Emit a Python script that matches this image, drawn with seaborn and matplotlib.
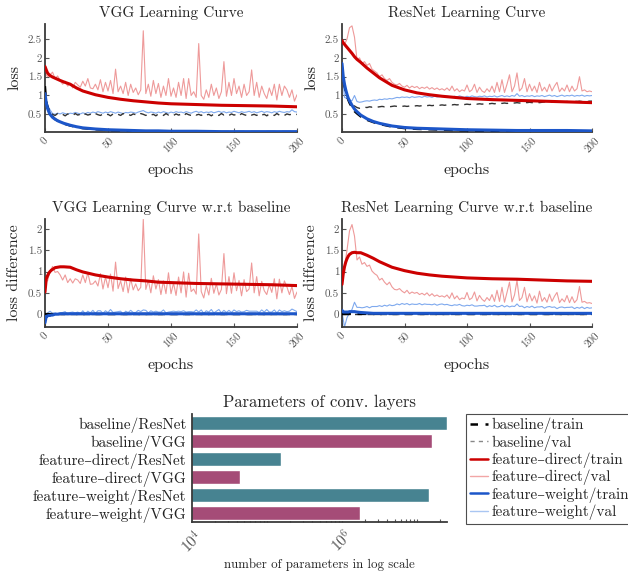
import numpy as np
import pandas as pd
import matplotlib
matplotlib.use("Agg")
import matplotlib.pyplot as plt
from matplotlib.lines import Line2D
from matplotlib.ticker import FuncFormatter, LogLocator, NullFormatter
import seaborn as sns

# ---------------- data ----------------
epochs_train = [0, 1, 2, 3, 4, 5, 6, 8, 10, 12, 15, 20, 25, 30, 40, 50, 60, 70, 80, 90, 100, 120, 140, 160, 180, 200]
epochs_val = list(range(0, 201, 2))

vgg_base_train = [1.25, 0.85, 0.70, 0.60, 0.53, 0.48, 0.44, 0.37, 0.33, 0.29, 0.25, 0.20, 0.16, 0.13, 0.10, 0.08, 0.07, 0.06, 0.05, 0.05, 0.04, 0.04, 0.03, 0.03, 0.03, 0.03]
vgg_direct_train = [1.77, 1.68, 1.60, 1.56, 1.53, 1.51, 1.49, 1.46, 1.43, 1.40, 1.36, 1.30, 1.20, 1.12, 1.02, 0.95, 0.90, 0.86, 0.83, 0.80, 0.78, 0.76, 0.74, 0.73, 0.72, 0.70]
vgg_weight_train = [1.05, 0.80, 0.66, 0.57, 0.50, 0.46, 0.42, 0.37, 0.33, 0.30, 0.26, 0.21, 0.17, 0.14, 0.11, 0.09, 0.08, 0.07, 0.06, 0.06, 0.05, 0.05, 0.04, 0.04, 0.04, 0.04]

vgg_base_val = [0.78, 0.72, 0.55, 0.50, 0.47, 0.52, 0.48, 0.50, 0.46, 0.51,
                0.49, 0.47, 0.52, 0.48, 0.50, 0.46, 0.51, 0.48, 0.50, 0.47,
                0.52, 0.49, 0.47, 0.51, 0.48, 0.50, 0.46, 0.51, 0.48, 0.50,
                0.47, 0.52, 0.48, 0.50, 0.47, 0.51, 0.49, 0.47, 0.52, 0.50,
                0.47, 0.51, 0.48, 0.50, 0.46, 0.51, 0.49, 0.47, 0.52, 0.48,
                0.50, 0.47, 0.51, 0.48, 0.50, 0.46, 0.52, 0.49, 0.47, 0.51,
                0.48, 0.50, 0.47, 0.52, 0.48, 0.50, 0.46, 0.51, 0.49, 0.47,
                0.52, 0.48, 0.50, 0.47, 0.51, 0.48, 0.50, 0.46, 0.52, 0.49,
                0.47, 0.51, 0.48, 0.50, 0.47, 0.52, 0.48, 0.50, 0.46, 0.51,
                0.49, 0.47, 0.52, 0.48, 0.50, 0.47, 0.51, 0.49, 0.50, 0.48,
                0.50]
vgg_direct_val = [1.60, 1.50, 1.55, 1.62, 1.45, 1.52, 1.40, 1.30, 1.38, 1.25,
                  1.32, 1.20, 1.35, 1.28, 1.22, 1.38, 1.25, 1.45, 1.20, 1.18,
                  1.30, 1.15, 1.42, 1.10, 1.35, 1.12, 1.40, 1.05, 1.70, 1.10,
                  1.25, 1.05, 1.35, 1.00, 1.30, 1.08, 1.20, 1.02, 1.15, 2.72,
                  1.05, 1.30, 0.98, 1.40, 1.05, 1.32, 0.95, 1.25, 1.00, 1.45,
                  0.98, 1.20, 0.95, 1.35, 1.00, 1.45, 0.92, 1.45, 1.00, 1.10,
                  0.95, 2.38, 1.00, 0.90, 1.15, 0.95, 1.30, 1.00, 1.20, 0.92,
                  1.10, 1.90, 0.98, 1.35, 1.00, 1.45, 1.05, 1.25, 0.95, 1.30,
                  1.00, 1.10, 1.68, 1.00, 1.35, 0.95, 1.25, 1.05, 0.92, 1.20,
                  1.00, 1.30, 0.88, 1.30, 1.00, 1.25, 1.15, 0.95, 1.15, 0.85,
                  1.02]
vgg_weight_val = [0.60, 0.75, 0.62, 0.52, 0.50, 0.53, 0.51, 0.54, 0.52, 0.50,
                  0.53, 0.52, 0.55, 0.53, 0.51, 0.54, 0.52, 0.55, 0.53, 0.56,
                  0.54, 0.57, 0.55, 0.53, 0.56, 0.54, 0.57, 0.55, 0.53, 0.56,
                  0.54, 0.52, 0.55, 0.54, 0.56, 0.55, 0.53, 0.56, 0.58, 0.60,
                  0.56, 0.54, 0.56, 0.55, 0.53, 0.56, 0.54, 0.57, 0.55, 0.53,
                  0.56, 0.54, 0.57, 0.55, 0.56, 0.54, 0.57, 0.55, 0.53, 0.56,
                  0.58, 0.55, 0.57, 0.54, 0.56, 0.55, 0.57, 0.54, 0.56, 0.58,
                  0.55, 0.57, 0.54, 0.56, 0.55, 0.58, 0.56, 0.54, 0.57, 0.55,
                  0.56, 0.58, 0.55, 0.57, 0.54, 0.56, 0.58, 0.55, 0.57, 0.56,
                  0.54, 0.57, 0.55, 0.58, 0.56, 0.55, 0.57, 0.56, 0.62, 0.57,
                  0.56]

res_base_train = [1.76, 1.45, 1.25, 1.10, 0.98, 0.88, 0.80, 0.68, 0.58, 0.52, 0.44, 0.35, 0.29, 0.24, 0.17, 0.13, 0.11, 0.10, 0.09, 0.08, 0.07, 0.06, 0.05, 0.05, 0.05, 0.04]
res_direct_train = [2.46, 2.40, 2.36, 2.32, 2.28, 2.24, 2.20, 2.12, 2.03, 1.96, 1.88, 1.73, 1.60, 1.47, 1.27, 1.15, 1.07, 1.02, 0.98, 0.95, 0.92, 0.89, 0.87, 0.85, 0.83, 0.81]
res_weight_train = [1.85, 1.50, 1.30, 1.15, 1.03, 0.93, 0.86, 0.74, 0.64, 0.57, 0.48, 0.38, 0.31, 0.26, 0.19, 0.15, 0.13, 0.12, 0.11, 0.10, 0.09, 0.08, 0.07, 0.07, 0.07, 0.06]

res_base_val = [1.65, 1.25, 1.00, 0.85, 0.75, 0.72, 0.68, 0.66, 0.68, 0.69,
                0.68, 0.70, 0.69, 0.70, 0.69, 0.70, 0.71, 0.70, 0.71, 0.70,
                0.71, 0.72, 0.71, 0.72, 0.71, 0.72, 0.71, 0.72, 0.73, 0.72,
                0.73, 0.72, 0.73, 0.74, 0.73, 0.74, 0.73, 0.74, 0.75, 0.74,
                0.75, 0.74, 0.75, 0.76, 0.75, 0.76, 0.75, 0.76, 0.77, 0.76,
                0.77, 0.76, 0.77, 0.78, 0.77, 0.78, 0.77, 0.78, 0.79, 0.78,
                0.79, 0.78, 0.79, 0.80, 0.79, 0.80, 0.79, 0.80, 0.81, 0.80,
                0.81, 0.80, 0.81, 0.82, 0.81, 0.82, 0.81, 0.82, 0.82, 0.81,
                0.82, 0.83, 0.82, 0.83, 0.82, 0.83, 0.84, 0.83, 0.84, 0.83,
                0.84, 0.83, 0.84, 0.85, 0.84, 0.85, 0.84, 0.85, 0.84, 0.85,
                0.85]
res_direct_val = [2.45, 2.35, 2.50, 2.80, 2.85, 2.55, 1.95, 2.00, 1.85, 1.90,
                  1.80, 1.85, 1.70, 1.65, 1.60, 1.50, 1.55, 1.45, 1.40, 1.45,
                  1.35, 1.30, 1.28, 1.32, 1.25, 1.22, 1.27, 1.20, 1.25, 1.21,
                  1.24, 1.18, 1.22, 1.19, 1.23, 1.17, 1.21, 1.16, 1.20, 1.15,
                  1.18, 1.14, 1.20, 1.13, 1.25, 1.12, 1.18, 1.10, 1.15, 1.12,
                  1.28, 1.10, 1.15, 1.30, 1.08, 1.22, 1.12, 1.08, 1.18, 1.10,
                  1.25, 1.08, 1.35, 1.10, 1.42, 1.08, 1.30, 1.55, 1.10, 1.25,
                  1.60, 1.12, 1.20, 1.45, 1.10, 1.30, 1.12, 1.25, 1.08, 1.35,
                  1.12, 1.22, 1.10, 1.30, 1.12, 1.25, 1.35, 1.10, 1.20, 1.12,
                  1.28, 1.10, 1.25, 1.12, 1.18, 1.50, 1.12, 1.15, 1.10, 1.12,
                  1.10]
res_weight_val = [1.70, 0.95, 0.92, 0.88, 0.86, 1.00, 0.84, 0.82, 0.83, 0.85,
                  0.86, 0.85, 0.87, 0.88, 0.87, 0.90, 0.89, 0.91, 0.90, 0.92,
                  0.91, 0.93, 0.95, 0.94, 0.96, 0.95, 0.96, 0.94, 0.97, 0.95,
                  0.96, 0.97, 0.95, 0.98, 0.96, 0.97, 0.95, 0.98, 0.96, 0.97,
                  0.99, 0.96, 0.98, 0.97, 0.95, 0.98, 0.96, 0.99, 0.97, 0.95,
                  0.98, 0.96, 0.99, 0.97, 0.96, 0.98, 0.97, 0.99, 0.96, 0.98,
                  0.97, 0.99, 0.96, 0.98, 1.00, 0.97, 0.99, 0.97, 1.00, 0.98,
                  1.05, 0.98, 1.00, 0.97, 0.99, 0.98, 1.00, 0.97, 0.99, 0.98,
                  1.00, 0.97, 0.99, 1.01, 0.98, 1.00, 0.97, 0.99, 1.01, 0.98,
                  1.00, 0.99, 1.01, 0.98, 1.00, 0.99, 1.01, 0.98, 1.00, 0.99,
                  1.00]

bar_labels = ["baseline/ResNet", "baseline/VGG", "feature\u2013direct/ResNet",
              "feature\u2013direct/VGG", "feature\u2013weight/ResNet", "feature\u2013weight/VGG"]
bar_models = ["ResNet", "VGG", "ResNet", "VGG", "ResNet", "VGG"]
bar_params = [2.49e7, 1.57e7, 1.54e5, 4.37e4, 1.45e7, 1.74e6]

legend_labels = ["baseline/train", "baseline/val", "feature\u2013direct/train",
                 "feature\u2013direct/val", "feature\u2013weight/train", "feature\u2013weight/val"]

# ---------------- style ----------------
sns.set_theme(style="ticks")
plt.rcParams["font.family"] = ["cmr10", "DejaVu Serif"]
plt.rcParams["mathtext.fontset"] = "cm"
plt.rcParams["axes.formatter.use_mathtext"] = True
plt.rcParams["axes.unicode_minus"] = False

C_BASE_T = "#000000"
C_BASE_V = "#333333"
C_DIR_T = "#cc0000"
C_DIR_V = "#ee9a9a"
C_W_T = "#1c56c9"
C_W_V = "#7ea9ee"
C_RES = "#478391"
C_VGG = "#a54c77"
SPINE = "#3a3a3a"
TICKC = "#555555"

W = 628
H = 573
fig = plt.figure(figsize=(W / 100, H / 100), dpi=100)


def rect(l, t, r, b):
    return [l / W, (H - b) / H, (r - l) / W, (b - t) / H]


ax_tl = fig.add_axes(rect(45, 24, 297, 132))
ax_tr = fig.add_axes(rect(342, 24, 592, 132))
ax_bl = fig.add_axes(rect(45, 219, 297, 327))
ax_br = fig.add_axes(rect(342, 219, 592, 327))
ax_bar = fig.add_axes(rect(192, 414, 447, 522))

fmt = FuncFormatter(lambda v, p: f"{v:g}")


def draw(ax, et, ev, bt, bv, dt, dv, wt, wv):
    sns.lineplot(x=ev, y=wv, ax=ax, color=C_W_V, lw=0.8, zorder=2)
    sns.lineplot(x=ev, y=dv, ax=ax, color=C_DIR_V, lw=0.8, zorder=2)
    sns.lineplot(x=ev, y=bv, ax=ax, color=C_BASE_V, lw=1.0, zorder=3)
    ax.lines[-1].set_dashes((5, 4))
    sns.lineplot(x=et, y=bt, ax=ax, color=C_BASE_T, lw=1.6, zorder=3)
    ax.lines[-1].set_dashes((4, 3))
    sns.lineplot(x=et, y=dt, ax=ax, color=C_DIR_T, lw=2.2, zorder=4)
    sns.lineplot(x=et, y=wt, ax=ax, color=C_W_T, lw=2.2, zorder=4)


def style(ax, title, ylabel, ylim, yticks):
    ax.set_xlim(0, 200)
    ax.set_ylim(*ylim)
    ax.set_yticks(yticks)
    ax.yaxis.set_major_formatter(fmt)
    ax.set_xticks([0, 50, 100, 150, 200])
    ax.xaxis.set_major_formatter(fmt)
    for lab in ax.get_xticklabels():
        lab.set_rotation(45)
    ax.tick_params(axis="both", labelsize=8, colors=TICKC, direction="in", length=3, width=0.8, pad=2)
    ax.tick_params(axis="x", pad=3)
    for s in ["top", "right"]:
        ax.spines[s].set_visible(False)
    for s in ["left", "bottom"]:
        ax.spines[s].set_color(SPINE)
        ax.spines[s].set_linewidth(1.3)
    ax.set_title(title, fontsize=11, pad=5)
    ax.set_xlabel("epochs", fontsize=11.5, labelpad=6)
    ax.set_ylabel(ylabel, fontsize=11.5, labelpad=5)


ev = np.array(epochs_val)
et = np.array(epochs_train)

# top row: raw losses
draw(ax_tl, et, ev, vgg_base_train, vgg_base_val, vgg_direct_train, vgg_direct_val, vgg_weight_train, vgg_weight_val)
draw(ax_tr, et, ev, res_base_train, res_base_val, res_direct_train, res_direct_val, res_weight_train, res_weight_val)


# bottom row: difference w.r.t. baseline
def diffs(bt, bv, dt, dv, wt, wv):
    bt, bv, dt, dv, wt, wv = map(np.array, (bt, bv, dt, dv, wt, wv))
    return bt - bt, bv - bv, dt - bt, dv - bv, wt - bt, wv - bv


draw(ax_bl, et, ev, *diffs(vgg_base_train, vgg_base_val, vgg_direct_train, vgg_direct_val, vgg_weight_train, vgg_weight_val))
draw(ax_br, et, ev, *diffs(res_base_train, res_base_val, res_direct_train, res_direct_val, res_weight_train, res_weight_val))

style(ax_tl, "VGG Learning Curve", "loss", (0.03, 2.9), [0.5, 1, 1.5, 2, 2.5])
style(ax_tr, "ResNet Learning Curve", "loss", (0.03, 2.9), [0.5, 1, 1.5, 2, 2.5])
style(ax_bl, "VGG Learning Curve w.r.t baseline", "loss difference", (-0.3, 2.23), [0, 0.5, 1, 1.5, 2])
style(ax_br, "ResNet Learning Curve w.r.t baseline", "loss difference", (-0.3, 2.23), [0, 0.5, 1, 1.5, 2])

# ---------------- bar chart ----------------
df_bar = pd.DataFrame({"label": bar_labels, "model": bar_models, "params": bar_params})
ax_bar.set_xscale("log")
sns.barplot(data=df_bar, x="params", y="label", hue="model", palette={"ResNet": C_RES, "VGG": C_VGG},
            dodge=False, legend=False, saturation=1, ax=ax_bar, width=0.8)
ax_bar.set_xlim(1e4, max(bar_params))
ax_bar.set_ylim(5.5, -0.5)
ax_bar.xaxis.set_major_locator(LogLocator(base=100))
ax_bar.xaxis.set_minor_locator(LogLocator(base=10, subs=np.arange(1, 10), numticks=20))
ax_bar.xaxis.set_minor_formatter(NullFormatter())
for lab in ax_bar.get_xticklabels():
    lab.set_rotation(45)
ax_bar.tick_params(axis="x", which="both", direction="in", colors=TICKC, labelsize=11, width=0.8)
ax_bar.tick_params(axis="x", which="major", length=4)
ax_bar.tick_params(axis="x", which="minor", length=2)
ax_bar.tick_params(axis="y", length=0, labelsize=11, pad=4, labelcolor="#222222")
for s in ["top", "right"]:
    ax_bar.spines[s].set_visible(False)
for s in ["left", "bottom"]:
    ax_bar.spines[s].set_color(SPINE)
    ax_bar.spines[s].set_linewidth(1.3)
ax_bar.set_ylabel("")
ax_bar.set_title("Parameters of conv. layers", fontsize=12, pad=5)
ax_bar.set_xlabel("number of parameters in log scale", fontsize=9.3, labelpad=2)

# ---------------- legend ----------------
handles = [
    Line2D([], [], color=C_BASE_T, lw=1.8, dashes=(3, 3)),
    Line2D([], [], color="#888888", lw=1.0, dashes=(3, 3)),
    Line2D([], [], color=C_DIR_T, lw=1.8),
    Line2D([], [], color="#f2a6a6", lw=1.0),
    Line2D([], [], color=C_W_T, lw=1.8),
    Line2D([], [], color="#a9c6f2", lw=1.0),
]
leg = fig.legend(handles, legend_labels, loc="upper left", bbox_to_anchor=(466 / W, (H - 414) / H),
                 fontsize=11, frameon=True, fancybox=False, edgecolor="#222222",
                 handlelength=1.2, handletextpad=0.2, labelspacing=0.12, borderpad=0.25, borderaxespad=0)
leg.get_frame().set_linewidth(0.8)

fig.savefig("out.png", dpi=100)
